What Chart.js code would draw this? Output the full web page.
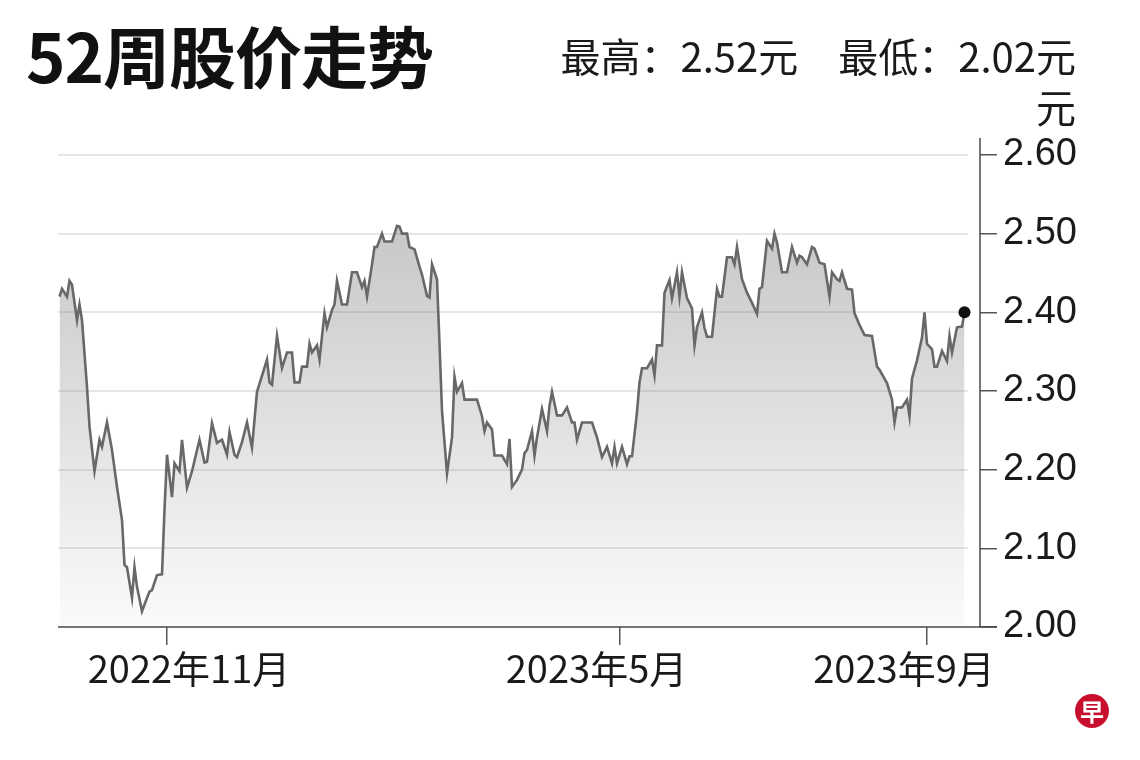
<!DOCTYPE html>
<html>
<head>
<meta charset="utf-8">
<script src="https://cdn.jsdelivr.net/npm/chart.js@4/dist/chart.umd.min.js"></script>
<style>
  html, body { margin: 0; padding: 0; background: #fff; }
  #wrap { position: relative; width: 1140px; height: 760px; overflow: hidden; }
  #title { position: absolute; left: 26px; top: 20px; font: bold 67px "Noto Sans CJK SC", sans-serif; color: #111; line-height: 1; letter-spacing: -1px; }
  #sub { position: absolute; right: 64px; top: 30px; font: 40px "Noto Sans CJK SC", sans-serif; color: #1a1a1a; line-height: 51px; text-align: right; }
  #logo { position: absolute; left: 1075px; top: 694px; width: 34px; height: 34px; border-radius: 50%; background: #c8102e; color: #fff; font: bold 24px "Noto Sans CJK SC", sans-serif; text-align: center; line-height: 34px; }
  canvas { position: absolute; left: 0; top: 0; }
</style>
</head>
<body>
<div id="wrap">
  <canvas id="price-chart" width="1140" height="760"></canvas>
  <div id="title">52周股价走势</div>
  <div id="sub">最高：2.52元　最低：2.02元<br>元</div>
  <div id="logo">早</div>
</div>
<script>
// days counted from 2022-11-01
const dayOffsets = [
  -43, -42, -40, -39, -38, -36, -35, -34, -32, -31, -29, -27, -26, -24, -22, -20, -18, -17, -16, -14,
  -13, -12, -10, -8, -7, -6, -4, -2, -1, 0, 2, 3, 5, 6, 8, 10, 13, 15, 16, 18,
  20, 22, 24, 25, 27, 28, 30, 32, 34, 36, 40, 41, 42, 44, 46, 48, 50, 51, 53, 54,
  56, 57, 58, 60, 61, 63, 64, 66, 67, 68, 70, 72, 74, 76, 78, 79, 80, 82, 83, 84,
  86, 87, 90, 92, 93, 94, 96, 97, 99, 101, 102, 104, 105, 106, 108, 109, 110, 111, 112, 114,
  115, 116, 118, 119, 124, 126, 127, 128, 130, 131, 134, 136, 137, 138, 140, 142, 143, 144, 146, 147,
  148, 150, 152, 153, 154, 156, 158, 160, 162, 163, 164, 166, 170, 172, 174, 176, 178, 179, 180, 182,
  184, 185, 186, 188, 189, 190, 192, 194, 195, 196, 198, 199, 201, 202, 204, 205, 206, 208, 210, 211,
  212, 214, 215, 216, 218, 220, 221, 222, 224, 226, 227, 228, 230, 232, 234, 236, 237, 238, 240, 242,
  243, 244, 246, 248, 250, 252, 253, 254, 256, 258, 259, 261, 263, 265, 266, 268, 269, 270, 272, 274,
  275, 277, 279, 282, 284, 285, 288, 290, 291, 292, 294, 296, 297, 298, 300, 302, 303, 304, 306, 307,
  308, 310, 312, 313, 314, 316, 318, 319
];
const closePrices = [
  2.42, 2.43, 2.42, 2.44, 2.435, 2.39, 2.41, 2.39, 2.305, 2.255, 2.198, 2.238, 2.229, 2.26, 2.225, 2.178, 2.136, 2.079, 2.076, 2.037,
  2.076, 2.051, 2.02, 2.037, 2.045, 2.047, 2.066, 2.067, 2.149, 2.219, 2.165, 2.208, 2.198, 2.238, 2.177, 2.198, 2.238, 2.209, 2.21, 2.259,
  2.234, 2.238, 2.219, 2.248, 2.219, 2.216, 2.235, 2.26, 2.228, 2.299, 2.34, 2.311, 2.308, 2.37, 2.329, 2.349, 2.349, 2.311, 2.311, 2.331,
  2.331, 2.36, 2.349, 2.358, 2.34, 2.399, 2.381, 2.403, 2.41, 2.44, 2.41, 2.41, 2.451, 2.451, 2.432, 2.44, 2.42, 2.461, 2.483, 2.483,
  2.50, 2.49, 2.49, 2.51, 2.509, 2.50, 2.50, 2.483, 2.48, 2.458, 2.448, 2.421, 2.419, 2.461, 2.442, 2.36, 2.275, 2.235, 2.195, 2.241,
  2.318, 2.299, 2.31, 2.289, 2.289, 2.268, 2.249, 2.26, 2.251, 2.218, 2.218, 2.207, 2.239, 2.178, 2.187, 2.20, 2.221, 2.225, 2.249, 2.218,
  2.241, 2.277, 2.249, 2.281, 2.299, 2.269, 2.269, 2.279, 2.26, 2.26, 2.238, 2.26, 2.26, 2.241, 2.216, 2.229, 2.208, 2.229, 2.208, 2.229,
  2.207, 2.217, 2.217, 2.273, 2.311, 2.329, 2.329, 2.34, 2.32, 2.358, 2.358, 2.425, 2.441, 2.418, 2.451, 2.42, 2.451, 2.418, 2.405, 2.358,
  2.381, 2.40, 2.38, 2.369, 2.369, 2.43, 2.42, 2.42, 2.47, 2.47, 2.461, 2.483, 2.442, 2.425, 2.412, 2.398, 2.43, 2.432, 2.491, 2.481,
  2.50, 2.489, 2.451, 2.451, 2.483, 2.463, 2.472, 2.47, 2.461, 2.483, 2.481, 2.463, 2.461, 2.42, 2.451, 2.442, 2.44, 2.451, 2.43, 2.429,
  2.399, 2.384, 2.371, 2.37, 2.331, 2.327, 2.31, 2.289, 2.26, 2.279, 2.279, 2.289, 2.268, 2.316, 2.339, 2.368, 2.40, 2.36, 2.353, 2.331,
  2.331, 2.351, 2.338, 2.37, 2.349, 2.381, 2.382, 2.40
];
const tickDays = [0, 181, 304];
const tickLabels = ['2022年11月', '2023年5月', '2023年9月'];
const gridValues = [2.1, 2.2, 2.3, 2.4, 2.5, 2.6];

const points = dayOffsets.map((d, i) => ({ x: d, y: closePrices[i] }));
const lastIndex = points.length - 1;

// grid lines stop short of the axis, axis lines run a bit past the plot,
// month labels are not centred on their ticks in the original
const chartDecor = {
  id: 'chartDecor',
  beforeDatasetsDraw(chart) {
    const { ctx, chartArea, scales } = chart;
    ctx.save();
    ctx.strokeStyle = '#e6e6e6';
    ctx.lineWidth = 2;
    gridValues.forEach(v => {
      const y = Math.round(scales.y.getPixelForValue(v));
      ctx.beginPath();
      ctx.moveTo(chartArea.left, y);
      ctx.lineTo(chartArea.right - 12, y);
      ctx.stroke();
    });
    ctx.restore();
  },
  afterDraw(chart) {
    const { ctx, chartArea, scales } = chart;
    ctx.save();
    ctx.strokeStyle = '#4a4a4a';
    ctx.lineWidth = 1.5;
    ctx.beginPath();
    ctx.moveTo(chartArea.right, chartArea.top - 17);
    ctx.lineTo(chartArea.right, chartArea.bottom);
    ctx.moveTo(chartArea.left, chartArea.bottom);
    ctx.lineTo(chartArea.right + 17, chartArea.bottom);
    ctx.stroke();

    const shifts = [22, -23, -23];
    ctx.fillStyle = '#1a1a1a';
    ctx.font = '38px "Noto Sans CJK SC", sans-serif';
    ctx.textAlign = 'center';
    ctx.textBaseline = 'middle';
    tickDays.forEach((d, i) => {
      const x = scales.x.getPixelForValue(d) + shifts[i];
      ctx.fillText(tickLabels[i], x, chartArea.bottom + 42);
    });
    ctx.restore();
  }
};

const ctx = document.getElementById('price-chart').getContext('2d');
new Chart(ctx, {
  type: 'line',
  data: {
    datasets: [{
      data: points,
      borderColor: '#686868',
      borderWidth: 2.6,
      tension: 0,
      fill: 'start',
      backgroundColor: (c) => {
        const area = c.chart.chartArea;
        if (!area) return 'rgba(150,150,150,0.3)';
        const g = c.chart.ctx.createLinearGradient(0, area.top, 0, area.bottom);
        g.addColorStop(0, 'rgba(120,120,120,0.48)');
        g.addColorStop(1, 'rgba(120,120,120,0.03)');
        return g;
      },
      pointRadius: (c) => c.dataIndex === lastIndex ? 6 : 0,
      pointBackgroundColor: '#111',
      pointBorderColor: '#111',
      pointBorderWidth: 0
    }]
  },
  options: {
    responsive: false,
    animation: false,
    layout: { padding: { left: 58, top: 155, right: 0, bottom: 0 } },
    plugins: { legend: { display: false }, tooltip: { enabled: false } },
    scales: {
      x: {
        type: 'linear',
        min: -43.6,
        max: 325.2,
        afterFit: (s) => { s.height = 133; },
        afterBuildTicks: (s) => { s.ticks = tickDays.map(v => ({ value: v })); },
        border: { display: false },
        grid: { drawOnChartArea: false, drawTicks: true, tickLength: 18, color: '#555', lineWidth: 1.5 },
        ticks: { display: false }
      },
      y: {
        position: 'right',
        min: 2.0,
        max: 2.6,
        afterFit: (s) => { s.width = 160; },
        border: { display: false },
        grid: { drawOnChartArea: false, drawTicks: true, tickLength: 17, color: '#555', lineWidth: 1.5 },
        ticks: {
          stepSize: 0.1,
          padding: 6,
          color: '#1a1a1a',
          font: { family: '"Liberation Sans", Arial, sans-serif', size: 38 },
          callback: (v) => Number(v).toFixed(2)
        }
      }
    }
  },
  plugins: [chartDecor]
});
</script>
</body>
</html>
